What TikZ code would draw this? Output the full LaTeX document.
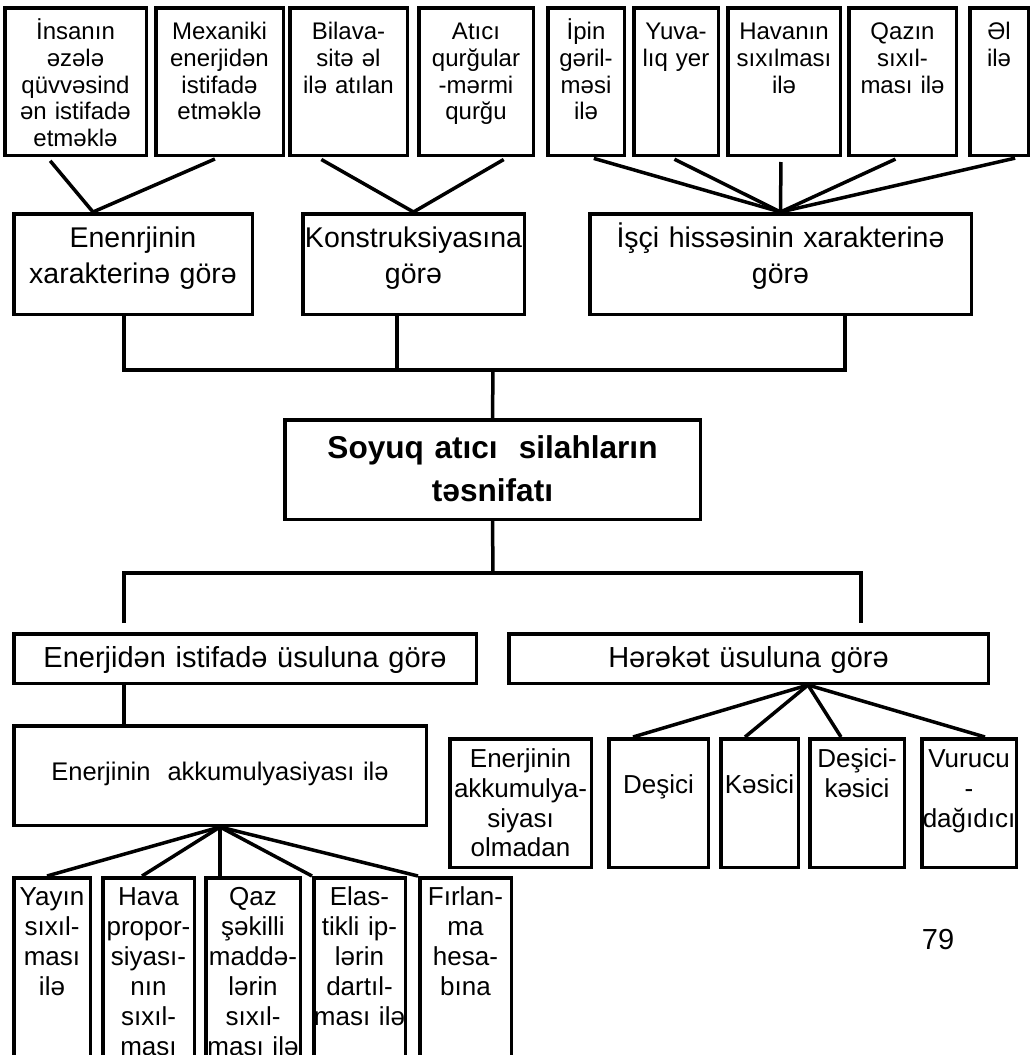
\documentclass[tikz,border=0pt]{standalone}
\usepackage{fontspec}
\setmainfont{Liberation Sans}
\usetikzlibrary{positioning}
\hyphenpenalty=10000
\exhyphenpenalty=10000

\begin{document}
\begin{tikzpicture}[x=1pt,y=-1pt,
  cell/.style={draw,line width=3.5pt,inner sep=0pt,align=center},
  toprow/.style={cell,font=\fontsize{24}{26.7}\selectfont,
    text height=32pt,text depth=115.5pt},
  midrow/.style={cell,font=\fontsize{28.5}{36}\selectfont,
    text height=33.25pt,text depth=67.25pt},
  rootbox/.style={cell,font=\bfseries\fontsize{31.6}{43}\selectfont,
    text height=38.25pt,text depth=61.25pt},
  waybox/.style={cell,font=\fontsize{29}{34}\selectfont,
    text height=33.9pt,text depth=15.6pt},
  kindbox/.style={cell,font=\fontsize{26}{29.7}\selectfont,
    text height=28.85pt,text depth=99.65pt},
  lowrow/.style={cell,font=\fontsize{26}{30}\selectfont,
    text height=27.85pt,text depth=162.65pt},
  wire/.style={line width=3.5pt}]
  \useasboundingbox (0,0) rectangle (1035,1055);
  \clip (0,0) rectangle (1035,1055);

  % top row
  \node[toprow,text width=141.5pt,anchor=north west] (T1) at (3,6)
    {İnsanın\\əzələ\\qüvvəsind\\ən istifadə\\etməklə};
  \node[toprow,text width=127.5pt,right=6pt of T1] (T2)
    {Mexaniki\\enerjidən\\istifadə\\etməklə};
  \node[toprow,text width=117.5pt,right=3pt of T2] (T3)
    {Bilava-\\sitə əl\\ilə atılan};
  \node[toprow,text width=114.5pt,right=8pt of T3] (T4)
    {Atıcı\\qurğular\\-mərmi\\qurğu};
  \node[toprow,text width=76.5pt,right=11pt of T4] (T5)
    {İpin\\gəril-\\məsi\\ilə};
  \node[toprow,text width=84.5pt,right=6pt of T5] (T6)
    {Yuva-\\lıq yer};
  \node[toprow,text width=112.5pt,right=6pt of T6] (T7)
    {Havanın\\sıxılması\\ilə};
  \node[toprow,text width=107.5pt,right=5pt of T7] (T8)
    {Qazın\\sıxıl-\\ması ilə};
  \node[toprow,text width=58.5pt,right=10pt of T8] (T9)
    {Əl\\ilə};

  % criteria
  \node[midrow,text width=238.5pt,anchor=north west] (A) at (12,212)
    {Enenrjinin\\xarakterinə görə};
  \node[midrow,text width=221.5pt,right=47pt of A] (B)
    {Konstruksiyasına\\görə};
  \node[midrow,text width=381.5pt,right=62pt of B] (C)
    {İşçi hissəsinin xarakterinə\\görə};

  % root
  \node[rootbox,text width=415.5pt,anchor=north west] (M) at (283,418)
    {Soyuq atıcı~ silahların\\təsnifatı};

  % second level
  \node[waybox,text width=462.5pt,anchor=north west] (E1) at (12,632)
    {Enerjidən istifadə üsuluna görə};
  \node[waybox,text width=479.5pt,right=29pt of E1] (E2)
    {Hərəkət üsuluna görə};

  \node[cell,font=\fontsize{25.5}{29}\selectfont,text width=412.5pt,
    text height=54.65pt,text depth=44.85pt,anchor=north west] (F) at (12,724)
    {Enerjinin~ akkumulyasiyası ilə};

  \node[kindbox,text width=141.5pt,anchor=north west] (R1) at (448,737)
    {Enerjinin\\akkumulya-\\siyası\\olmadan};
  \node[kindbox,text width=99.5pt,text height=54.85pt,text depth=73.65pt,
    right=14pt of R1] (R2) {Deşici};
  \node[kindbox,text width=77.5pt,text height=54.85pt,text depth=73.65pt,
    right=9pt of R2] (R3) {Kəsici};
  \node[kindbox,text width=94.5pt,right=8pt of R3] (R4)
    {Deşici-\\kəsici};
  \node[kindbox,text width=94.5pt,right=14pt of R4] (R5)
    {Vurucu\\-\\dağıdıcı};

  % bottom row
  \node[lowrow,text width=76.5pt,anchor=north west] (B1) at (12,876)
    {Yayın\\sıxıl-\\ması\\ilə};
  \node[lowrow,text width=91.5pt,right=9pt of B1] (B2)
    {Hava\\propor-\\siyası-\\nın\\sıxıl-\\ması};
  \node[lowrow,text width=94.5pt,right=8pt of B2] (B3)
    {Qaz\\şəkilli\\maddə-\\lərin\\sıxıl-\\ması ilə};
  \node[lowrow,text width=91.5pt,right=10pt of B3] (B4)
    {Elas-\\tikli ip-\\lərin\\dartıl-\\ması ilə};
  \node[lowrow,text width=91.5pt,right=11pt of B4] (B5)
    {Fırlan-\\ma\\hesa-\\bına};

  \node[font=\fontsize{29}{33}\selectfont] (PG) at (938,940) {79};

  % links
  \draw[wire,shorten <=5pt] ([xshift=-28.5pt]T1.south) -- ([xshift=-40pt]A.north);
  \draw[wire,shorten <=5pt] (T2.south) -- ([xshift=-40pt]A.north);
  \draw[wire,shorten <=5pt] ([xshift=-31.5pt]T3.south) -- (B.north);
  \draw[wire,shorten <=5pt] ([xshift=32pt]T4.south) -- (B.north);
  \draw[wire,shorten <=5pt] ([xshift=3pt]T5.south) -- (C.north);
  \draw[wire,shorten <=5pt] ([xshift=-6pt]T6.south) -- (C.north);
  \draw[wire,shorten <=5pt] ([xshift=-3pt]T7.south) -- (C.north);
  \draw[wire,shorten <=5pt] ([xshift=-2.5pt]T8.south) -- (C.north);
  \draw[wire,shorten <=5pt] ([xshift=21pt]T9.south) -- (C.north);

  \coordinate (J1) at (493,370);
  \draw[wire] ([xshift=-9pt]A.south) |- (J1) -| ([xshift=64.5pt]C.south);
  \draw[wire] ([xshift=-16.5pt]B.south) |- (J1);
  \draw[wire] (J1) -- (M.north);

  \coordinate (J2) at (493,573);
  \draw[wire] (M.south) -- (J2);
  \draw[wire,shorten <=9pt,shorten >=9pt]
    ([xshift=-121pt]E1.north) |- (J2) -| ([xshift=112.5pt]E2.north);
  \draw[wire] ([xshift=-121pt]E1.south) -- ([xshift=-96pt]F.north);

  \draw[wire] (F.south) -- ([xshift=-5pt]B1.north);
  \draw[wire] (F.south) -- ([xshift=-6.5pt]B2.north);
  \draw[wire] (F.south) -- ([xshift=-33pt]B3.north);
  \draw[wire] (F.south) -- (B4.north west);
  \draw[wire] (F.south) -- (B5.north west);

  \draw[wire] ([xshift=59.5pt]E2.south) -- ([xshift=-25.5pt]R2.north);
  \draw[wire] ([xshift=59.5pt]E2.south) -- ([xshift=-14.5pt]R3.north);
  \draw[wire] ([xshift=59.5pt]E2.south) -- ([xshift=-16pt]R4.north);
  \draw[wire] ([xshift=59.5pt]E2.south) -- ([xshift=16pt]R5.north);
\end{tikzpicture}
\end{document}
